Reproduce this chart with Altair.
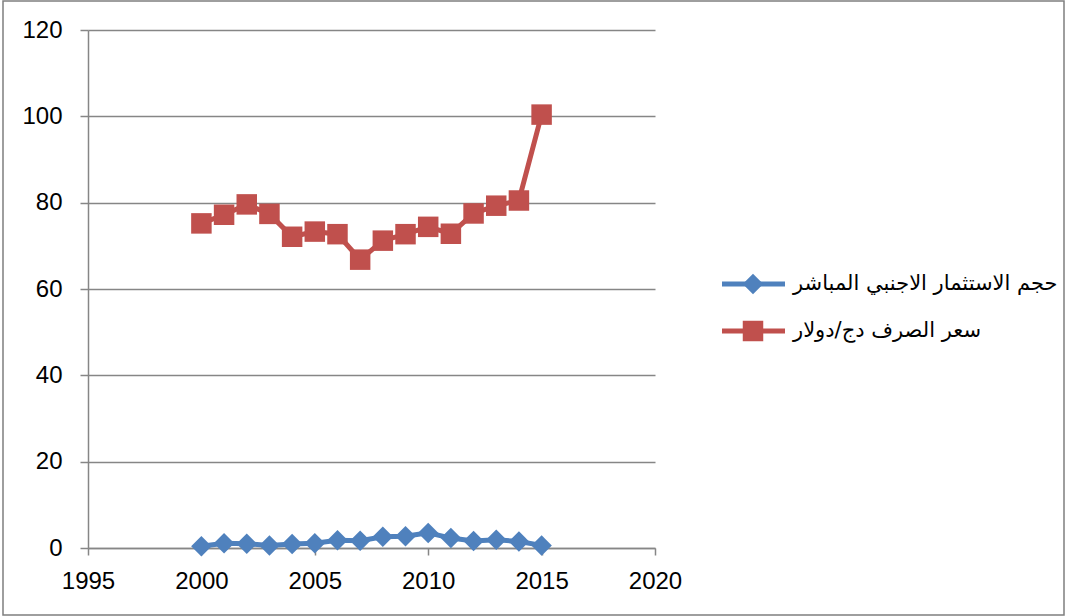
import altair as alt
import pandas as pd

# Yearly series
years = list(range(2000, 2016))
fdi_volume = [0.4, 1.1, 1.0, 0.6, 0.9, 1.1, 1.8, 1.7, 2.6, 2.7, 3.5, 2.3, 1.6, 1.9, 1.5, 0.6]
exchange_rate = [75.2, 77.2, 79.6, 77.4, 72.1, 73.3, 72.7, 66.8, 71.2, 72.7, 74.4, 72.8, 77.5, 79.3, 80.5, 100.4]

series_names = ["حجم الاستثمار الاجنبي المباشر", "سعر الصرف دج/دولار"]
series_colors = ["#4F81BD", "#C0504D"]
series_shapes = ["diamond", "square"]

x_ticks = [1995, 2000, 2005, 2010, 2015, 2020]
y_ticks = [0, 20, 40, 60, 80, 100, 120]

df = pd.DataFrame({
    "year": years + years,
    "value": fdi_volume + exchange_rate,
    "series": [series_names[0]] * len(years) + [series_names[1]] * len(years),
})

W, H = 567, 518
GRAY = "#868686"

x_enc = alt.X(
    "year:Q",
    scale=alt.Scale(domain=[1995, 2020], nice=False, zero=False),
    axis=alt.Axis(values=x_ticks, format="d", grid=False, title=None, labelFlush=False,
                  tickSize=7, labelPadding=14, domainColor=GRAY, tickColor=GRAY,
                  domainWidth=1.5, tickWidth=1.5),
)
y_enc = alt.Y(
    "value:Q",
    scale=alt.Scale(domain=[0, 120], nice=False),
    axis=alt.Axis(values=y_ticks, grid=True, gridColor=GRAY, gridWidth=1.5, title=None,
                  tickSize=8, labelPadding=18, domainColor=GRAY, tickColor=GRAY,
                  domainWidth=1.5, tickWidth=1.5),
)
color_scale = alt.Scale(domain=series_names, range=series_colors)
shape_scale = alt.Scale(domain=series_names, range=series_shapes)
color_enc = alt.Color("series:N", scale=color_scale, legend=None)
shape_enc = alt.Shape("series:N", scale=shape_scale, legend=None)

lines = alt.Chart(df).mark_line(strokeWidth=5).encode(x=x_enc, y=y_enc, color=color_enc)
points = alt.Chart(df).mark_point(filled=True, opacity=1, size=420).encode(
    x=x_enc, y=y_enc, color=color_enc, shape=shape_enc
)

# Legend drawn to the right of the plot
legend_layers = []
for i, name in enumerate(series_names):
    ldf = pd.DataFrame({"series": [name]})
    row_y = 254 + 47 * i
    base = alt.Chart(ldf)
    legend_layers.append(
        base.mark_rule(strokeWidth=5).encode(
            x=alt.value(634), x2=alt.value(697), y=alt.value(row_y), color=color_enc
        )
    )
    legend_layers.append(
        base.mark_point(filled=True, opacity=1, size=420).encode(
            x=alt.value(665), y=alt.value(row_y), color=color_enc, shape=shape_enc
        )
    )
    legend_layers.append(
        base.mark_text(align="left", baseline="middle", font="DejaVu Sans",
                       fontSize=21, color="#000000").encode(
            x=alt.value(705), y=alt.value(row_y), text="series:N"
        )
    )

frame = alt.Chart(pd.DataFrame({"k": [0]})).mark_rect(
    fillOpacity=0, stroke="#7f7f7f", strokeWidth=1.5
).encode(x=alt.value(-85), x2=alt.value(976), y=alt.value(-29), y2=alt.value(585))

chart = alt.layer(lines, points, *legend_layers, frame).properties(
    width=W, height=H,
    autosize=alt.AutoSizeParams(type="none"),
    padding={"left": 88, "top": 30, "right": 411, "bottom": 68},
    background="white",
).configure_view(stroke=None).configure_axis(
    labelFont="Liberation Sans", labelFontSize=24, labelColor="#000000"
)

chart.save("out.html", embed_options={"renderer": "svg", "actions": False})
